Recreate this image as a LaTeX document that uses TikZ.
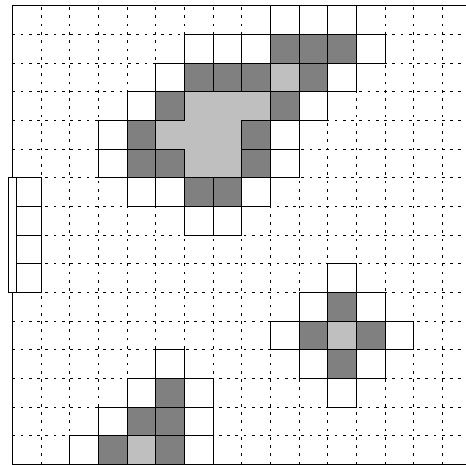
\documentclass[tikz,border=0pt]{standalone}
\definecolor{darkcell}{gray}{0.5}
\definecolor{lightcell}{gray}{0.75}
\begin{document}
\begin{tikzpicture}[x=1cm,y=1cm,
  gridline/.style={dash pattern=on 2.7pt off 5.5pt, line width=0.45pt},
  frameline/.style={line width=0.8pt},
  wcell/.style={fill=white, draw=black, line width=0.6pt},
  dcell/.style={fill=darkcell, draw=black, line width=0.6pt},
  lcell/.style={fill=lightcell},
  barbox/.style={fill=white, draw=black, line width=0.6pt}]
\useasboundingbox (-0.429,-0.021) rectangle (15.825,16.198);
% dashed grid
\foreach \x in {1,...,15} \draw[gridline] (\x,0) -- (\x,16);
\foreach \y in {1,...,15} \draw[gridline] (0,\y) -- (15.9,\y);
% frame
\draw[line width=0.5pt] (0,0) -- (0,16);
\draw[frameline] (0,16) -- (15.9,16);
\draw[frameline] (0,0) -- (15.9,0);
% light cells
\foreach \c/\r in {6/12,7/12,8/12,5/11,6/11,7/11,6/10,7/10,9/13,4/0,11/4}
  \fill[lcell] (\c,\r) rectangle ++(1,1);
% white cells
\foreach \c/\r in {9/15,10/15,11/15,6/14,7/14,8/14,12/14,5/13,11/13,4/12,10/12,
  3/11,9/11,3/10,9/10,4/9,5/9,8/9,6/8,7/8,
  0/6,0/7,0/8,0/9,
  5/3,4/2,6/2,3/1,6/1,2/0,6/0,
  11/6,10/5,12/5,9/4,13/4,10/3,12/3,11/2}
  \draw[wcell] (\c,\r) rectangle ++(1,1);
% dark cells
\foreach \c/\r in {9/14,10/14,11/14,6/13,7/13,8/13,10/13,5/12,9/12,4/11,8/11,
  4/10,5/10,8/10,6/9,7/9,
  5/2,4/1,5/1,3/0,5/0,
  11/5,10/4,12/4,11/3}
  \draw[dcell] (\c,\r) rectangle ++(1,1);
% narrow bar on the left edge
\draw[barbox] (-0.14,6) rectangle (0.14,10);
\end{tikzpicture}
\end{document}
